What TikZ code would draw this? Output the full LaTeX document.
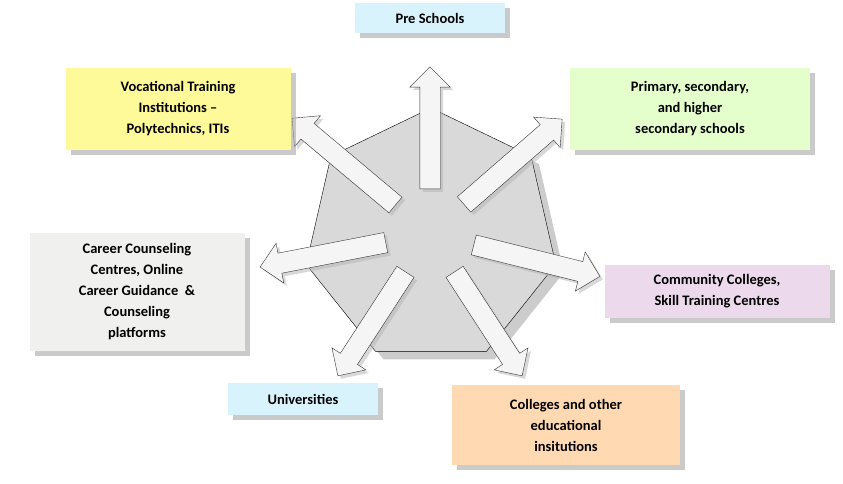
\documentclass[tikz,border=0pt]{standalone}
\usepackage{fontspec}
\setmainfont{Carlito}
\usetikzlibrary{calc,shapes.geometric,shapes.arrows,shadows}
\tikzset{
    infobox/.style={minimum height=#1, align=center, font=\bfseries\fontsize{14.5}{21}\selectfont, inner sep=4pt,
        drop shadow={shadow xshift=5pt, shadow yshift=-5pt, fill=black!35, opacity=0.6}},
    outarrow/.style={single arrow, draw=black!80, fill=gray!8, minimum width=40pt,
        single arrow head extend=10pt, single arrow tip angle=90, inner xsep=0pt, inner ysep=10pt,
        minimum height=118pt,
        drop shadow={shadow xshift=3pt, shadow yshift=-3pt, fill=black!30, opacity=0.5}}
}
\begin{document}
\begin{tikzpicture}[x=1pt, y=-1pt]
    \useasboundingbox (0,0) rectangle (843,483);

    % centre piece
    \node[regular polygon, regular polygon sides=7, minimum size=256pt, draw=black, fill=gray!30,
        drop shadow={shadow xshift=8pt, shadow yshift=-8pt, fill=black!40, opacity=0.5}]
        (hub) at (431,236) {};

    % arrows
    \foreach \ang/\len [count=\i] in {90/122, 41/130, -14/130, -57/124, -123/124, -169/128, 140/135} {
        \node[outarrow, minimum height=\len pt, rotate=\ang] (arr\i)
            at ($(430,234)+(\ang:40pt)+(\ang:{\len/2*1pt})$) {};
    }

    % boxes
    \node[infobox=30pt, fill=cyan!15, minimum width=150pt] (pre) at (430,18) {Pre Schools};
    \node[infobox=82pt, fill=yellow!40, minimum width=225pt] (voc) at (178,109)
        {Vocational Training\\Institutions --\\Polytechnics, ITIs};
    \node[infobox=82pt, fill=green!50!yellow!20, minimum width=240pt] (prim) at (690,109)
        {Primary, secondary,\\and higher\\secondary schools};
    \node[infobox=118pt, fill=brown!10!gray!12, minimum width=215pt] (career) at (137,292)
        {Career Counseling\\Centres, Online\\Career Guidance \ \&\\Counseling\\platforms};
    \node[infobox=53pt, fill=violet!15, minimum width=225pt] (comm) at (717,291)
        {Community Colleges,\\Skill Training Centres};
    \node[infobox=32pt, fill=cyan!15, minimum width=150pt] (uni) at (303,399) {Universities};
    \node[infobox=80pt, fill=orange!30, minimum width=228pt] (coll) at (566,425)
        {Colleges and other\\educational\\insitutions};
\end{tikzpicture}
\end{document}
